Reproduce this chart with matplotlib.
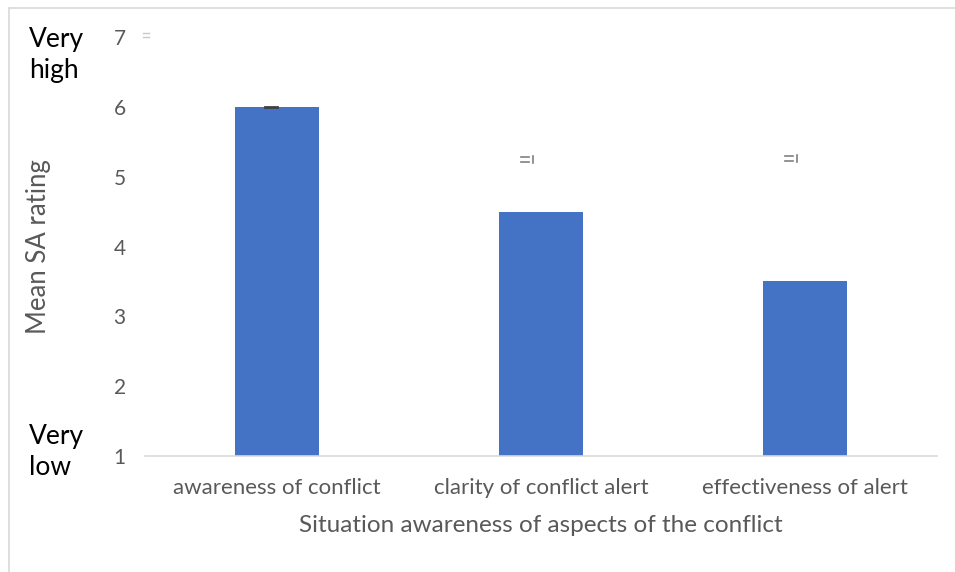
import matplotlib.pyplot as plt
from matplotlib.lines import Line2D

categories = ['awareness of conflict', 'clarity of conflict alert', 'effectiveness of alert']
mean_sa = [6.0, 4.5, 3.5]
y_ticks = [1, 2, 3, 4, 5, 6, 7]

plt.rcParams['font.family'] = ['Lato', 'DejaVu Sans']

fig = plt.figure(figsize=(9.55, 5.72), dpi=100)
ax = fig.add_axes([0.152, 0.203, 0.829, 0.732])

x = range(len(categories))
ax.bar(x, mean_sa, width=0.32, bottom=0, color='#4472C4', zorder=2)
ax.set_ylim(1, 7)
ax.set_xlim(-0.5, 2.5)
ax.set_yticks(y_ticks)
ax.set_xticks(list(x))
ax.set_xticklabels(categories)
ax.tick_params(axis='y', length=0, labelsize=15, colors='#595959', pad=14)
ax.tick_params(axis='x', length=0, labelsize=16, colors='#595959', pad=16)

for s in ['top', 'right', 'left']:
    ax.spines[s].set_visible(False)
ax.spines['bottom'].set_color('#D9D9D9')
ax.spines['bottom'].set_linewidth(1.2)

ax.set_ylabel('Mean SA rating', fontsize=18.5, color='#595959', labelpad=45)
ax.set_xlabel('Situation awareness of aspects of the conflict', fontsize=17.5, color='#595959', labelpad=12)

# leftover error bar caps
ax.plot([-0.045, 0.0], [6.0, 6.0], color='#404040', lw=2, zorder=3)
for xi, yi in [(0.955, 5.25), (1.955, 5.26)]:
    ax.plot([xi - 0.03, xi], [yi + 0.04, yi + 0.04], color='#808080', lw=1.2, clip_on=False)
    ax.plot([xi - 0.03, xi], [yi - 0.04, yi - 0.04], color='#808080', lw=1.2, clip_on=False)
    ax.plot([xi + 0.015, xi + 0.015], [yi - 0.05, yi + 0.05], color='#808080', lw=1.2, clip_on=False)
ax.plot([-0.51, -0.485], [7.06, 7.06], color='#C8C8C8', lw=1, clip_on=False)
ax.plot([-0.51, -0.485], [7.0, 7.0], color='#C8C8C8', lw=1, clip_on=False)

fig.text(0.03, 0.904, 'Very\nhigh', fontsize=19, color='black', va='center', ha='left', linespacing=1.3)
fig.text(0.03, 0.21, 'Very\nlow', fontsize=19, color='black', va='center', ha='left', linespacing=1.3)

# chart frame
fig.add_artist(Line2D([0.009, 0.009], [0, 0.986], transform=fig.transFigure, color='#D9D9D9', lw=1.2))
fig.add_artist(Line2D([0.009, 1], [0.986, 0.986], transform=fig.transFigure, color='#D9D9D9', lw=1.2))

fig.savefig('out.png', dpi=100)
